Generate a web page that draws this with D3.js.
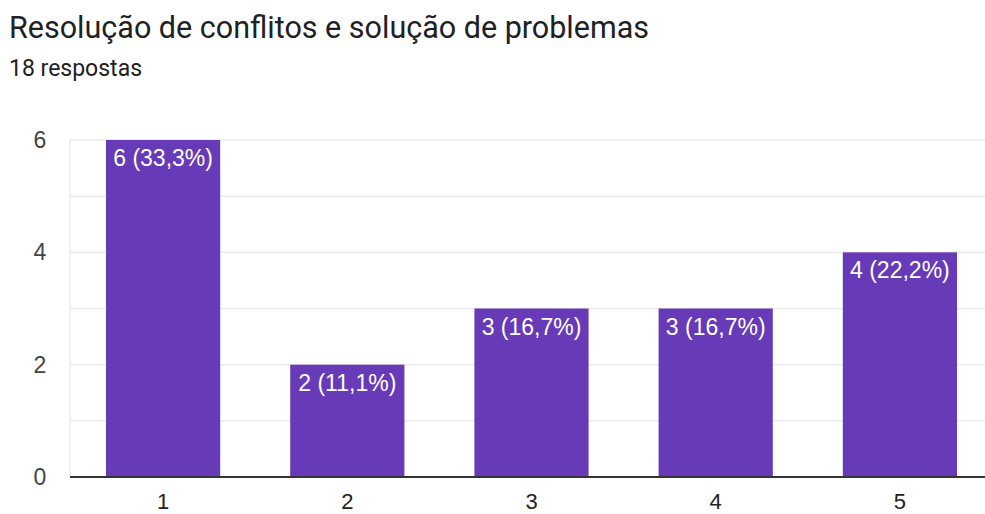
<!DOCTYPE html>
<html>
<head>
<meta charset="utf-8">
<script src="https://cdn.jsdelivr.net/npm/d3@7"></script>
<style>
	body { margin: 0; background: #fff; font-family: Roboto, "Noto Sans", sans-serif; }
</style>
</head>
<body>
<div id="chart"></div>
<script>
	// values
	var categories = ["1", "2", "3", "4", "5"];
	var counts = [6, 2, 3, 3, 4];
	var labels = ["6 (33,3%)", "2 (11,1%)", "3 (16,7%)", "3 (16,7%)", "4 (22,2%)"];
	var yTicks = [0, 2, 4, 6];
	var gridTicks = [0, 1, 2, 3, 4, 5, 6];

	var width = 985, height = 514;
	var plotLeft = 70, plotRight = 985, plotTop = 140, plotBottom = 477;
	var axisFont = "'Liberation Sans', Arial, sans-serif";

	var svg = d3.select("#chart").append("svg")
		.attr("width", width)
		.attr("height", height);

	// title
	svg.append("text")
		.attr("x", 9).attr("y", 38)
		.attr("font-size", 30.5)
		.attr("fill", "#202124")
		.text("Resolução de conflitos e solução de problemas");

	svg.append("text")
		.attr("x", 9).attr("y", 76)
		.attr("font-size", 23)
		.attr("fill", "#202124")
		.text("18 respostas");

	var x = d3.scaleBand()
		.domain(categories)
		.range([71, 992])
		.paddingInner(0.38)
		.paddingOuter(0.19);

	var y = d3.scaleLinear()
		.domain([0, 6])
		.range([plotBottom, plotTop]);

	// grid
	svg.selectAll("line.grid")
		.data(gridTicks)
		.enter().append("line")
		.attr("class", "grid")
		.attr("x1", plotLeft).attr("x2", plotRight)
		.attr("y1", function(d) { return y(d); })
		.attr("y2", function(d) { return y(d); })
		.attr("stroke", "#ebebeb")
		.attr("stroke-width", 1.5);

	svg.append("line")
		.attr("x1", plotLeft).attr("x2", plotLeft)
		.attr("y1", plotTop).attr("y2", plotBottom)
		.attr("stroke", "#ebebeb")
		.attr("stroke-width", 1.5);

	// y labels
	svg.selectAll("text.ytick")
		.data(yTicks)
		.enter().append("text")
		.attr("class", "ytick")
		.attr("x", 40)
		.attr("y", function(d) { return y(d) + 8; })
		.attr("text-anchor", "middle")
		.attr("font-family", axisFont)
		.attr("font-size", 23)
		.attr("fill", "#444")
		.text(function(d) { return d; });

	// bars
	svg.selectAll("rect.bar")
		.data(counts)
		.enter().append("rect")
		.attr("class", "bar")
		.attr("x", function(d, i) { return x(categories[i]); })
		.attr("y", function(d) { return y(d); })
		.attr("width", x.bandwidth())
		.attr("height", function(d) { return y(0) - y(d); })
		.attr("fill", "#673ab7");

	svg.selectAll("text.val")
		.data(counts)
		.enter().append("text")
		.attr("class", "val")
		.attr("x", function(d, i) { return x(categories[i]) + x.bandwidth() / 2; })
		.attr("y", function(d) { return y(d) + 26; })
		.attr("text-anchor", "middle")
		.attr("font-family", axisFont)
		.attr("font-size", 23)
		.attr("fill", "#fff")
		.text(function(d, i) { return labels[i]; });

	// x axis
	svg.append("line")
		.attr("x1", plotLeft).attr("x2", plotRight)
		.attr("y1", plotBottom).attr("y2", plotBottom)
		.attr("stroke", "#333")
		.attr("stroke-width", 2);

	svg.selectAll("text.xtick")
		.data(categories)
		.enter().append("text")
		.attr("class", "xtick")
		.attr("x", function(d) { return x(d) + x.bandwidth() / 2; })
		.attr("y", 509)
		.attr("text-anchor", "middle")
		.attr("font-family", axisFont)
		.attr("font-size", 22)
		.attr("fill", "#222")
		.text(function(d) { return d; });
</script>
</body>
</html>
